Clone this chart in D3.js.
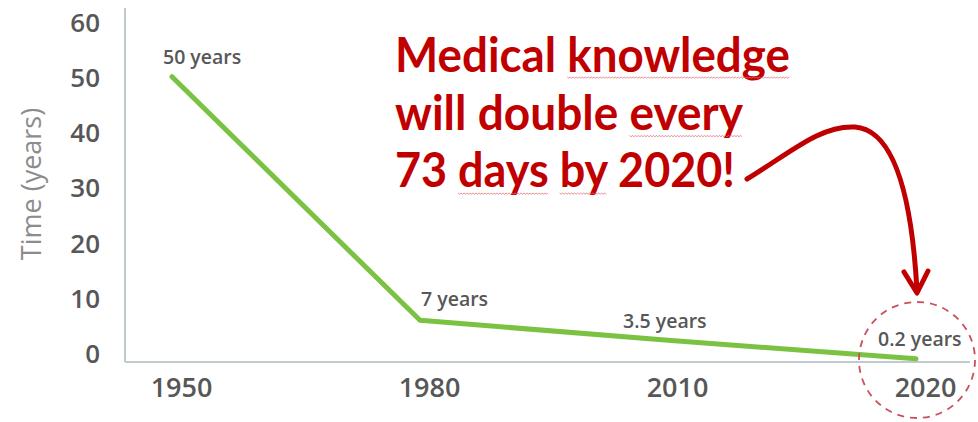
<!DOCTYPE html>
<html><head><meta charset="utf-8">
<script src="https://cdn.jsdelivr.net/npm/d3@7/dist/d3.min.js"></script>
<style>body{margin:0;background:#fff}svg{display:block}</style>
</head><body>
<svg id="c" width="978" height="422"></svg>
<script>
const years = ["1950", "1980", "2010", "2020"];
const values = [50, 7, 3.5, 0.2];
const pointLabels = ["50 years", "7 years", "3.5 years", "0.2 years"];
const yTicks = [0, 10, 20, 30, 40, 50, 60];
const yTitle = "Time (years)";
const noteLines = ["Medical knowledge", "will double every", "73 days by 2020!"];
const squiggleWords = [[0, "knowledge"], [1, "every"], [2, "days"], [2, "by"]];

const svg = d3.select("#c");
const x = d3.scalePoint().domain(years).range([172, 916]);
const y = d3.scaleLinear().domain([0, 60]).range([360, 20]);
const grey = "#575757";
const red = "#c00000";
const fontUI = "'Open Sans', sans-serif";

// axes lines
svg.append("line").attr("x1", 125).attr("x2", 125).attr("y1", 8).attr("y2", 362)
  .attr("stroke", "#bfcacd").attr("stroke-width", 2);
svg.append("line").attr("x1", 125).attr("x2", 970).attr("y1", 362).attr("y2", 362)
  .attr("stroke", "#bfcacd").attr("stroke-width", 2);

// y axis
const yAxis = svg.append("g").attr("transform", "translate(100,0)")
  .call(d3.axisLeft(y).tickValues(yTicks).tickSize(0).tickPadding(0));
yAxis.select(".domain").remove();
yAxis.selectAll("text").attr("font-family", fontUI).attr("font-weight", 600)
  .attr("font-size", 26).attr("fill", grey).attr("dy", "0.36em")
  .attr("transform", d => `translate(0,${-7 + d * 9 / 60})`);

// x axis
const xAxis = svg.append("g").attr("transform", "translate(9,362)")
  .call(d3.axisBottom(x).tickSize(0).tickPadding(0));
xAxis.select(".domain").remove();
xAxis.selectAll("text").attr("font-family", fontUI).attr("font-weight", 600)
  .attr("font-size", 27).attr("fill", grey).attr("dy", "1.28em");

// y title
svg.append("text").attr("transform", "translate(41,184) rotate(-90)")
  .attr("text-anchor", "middle").attr("font-family", fontUI)
  .attr("font-size", 27).attr("fill", "#8c8c8c").text(yTitle);

// line
const data = years.map((yr, i) => ({yr, v: values[i], lab: pointLabels[i]}));
svg.append("path").datum(data)
  .attr("d", d3.line().x(d => x(d.yr)).y(d => y(d.v)))
  .attr("fill", "none").attr("stroke", "#7cc242").attr("stroke-width", 5)
  .attr("stroke-linecap", "round").attr("stroke-linejoin", "round");

// point labels
const labOff = [[-9, -13], [1, -14], [-45, -12], [-38, -13]];
svg.selectAll(".pl").data(data).join("text")
  .attr("x", (d, i) => x(d.yr) + labOff[i][0])
  .attr("y", (d, i) => y(d.v) + labOff[i][1])
  .attr("font-family", fontUI).attr("font-weight", 600)
  .attr("font-size", 19.5).attr("fill", grey).text(d => d.lab);

// dashed circle
svg.append("circle").attr("cx", x("2020") + 1).attr("cy", 360).attr("r", 58)
  .attr("fill", "none").attr("stroke", "#c9505a").attr("stroke-width", 1.8)
  .attr("stroke-dasharray", "7,6");

// annotation text
const widths = [395, 348, 340];
const noteNodes = noteLines.map((t, i) =>
  svg.append("text").attr("x", 395).attr("y", 72 + i * 57.5)
    .attr("font-family", "Lato, sans-serif").attr("font-weight", 700)
    .attr("font-size", 47).attr("fill", red)
    .attr("textLength", widths[i]).attr("lengthAdjust", "spacingAndGlyphs").text(t).node());

// spell-check squiggles
squiggleWords.forEach(([li, w]) => {
  const node = noteNodes[li];
  const s = noteLines[li].indexOf(w);
  const x0 = node.getStartPositionOfChar(s).x;
  const x1 = node.getEndPositionOfChar(s + w.length - 1).x;
  const yy = 72 + li * 57.5 + (li === 0 ? 5 : 6);
  let d = `M${x0},${yy}`;
  for (let xx = x0 + 1.5, k = 0; xx <= x1; xx += 1.5, k++) d += ` L${xx},${yy + (k % 2 ? 0 : 1.2)}`;
  svg.append("path").attr("d", d).attr("fill", "none").attr("stroke", "#e2707a").attr("stroke-width", 0.8);
});

// arrow
svg.append("path")
  .attr("d", "M747,179 C790,153 820,125 855,127 C895,130 912,200 917,291")
  .attr("fill", "none").attr("stroke", red).attr("stroke-width", 5).attr("stroke-linecap", "round");
svg.append("path").attr("d", "M904,272 L917,293 L928,271")
  .attr("fill", "none").attr("stroke", red).attr("stroke-width", 5)
  .attr("stroke-linecap", "round").attr("stroke-linejoin", "round");
</script>
</body></html>
